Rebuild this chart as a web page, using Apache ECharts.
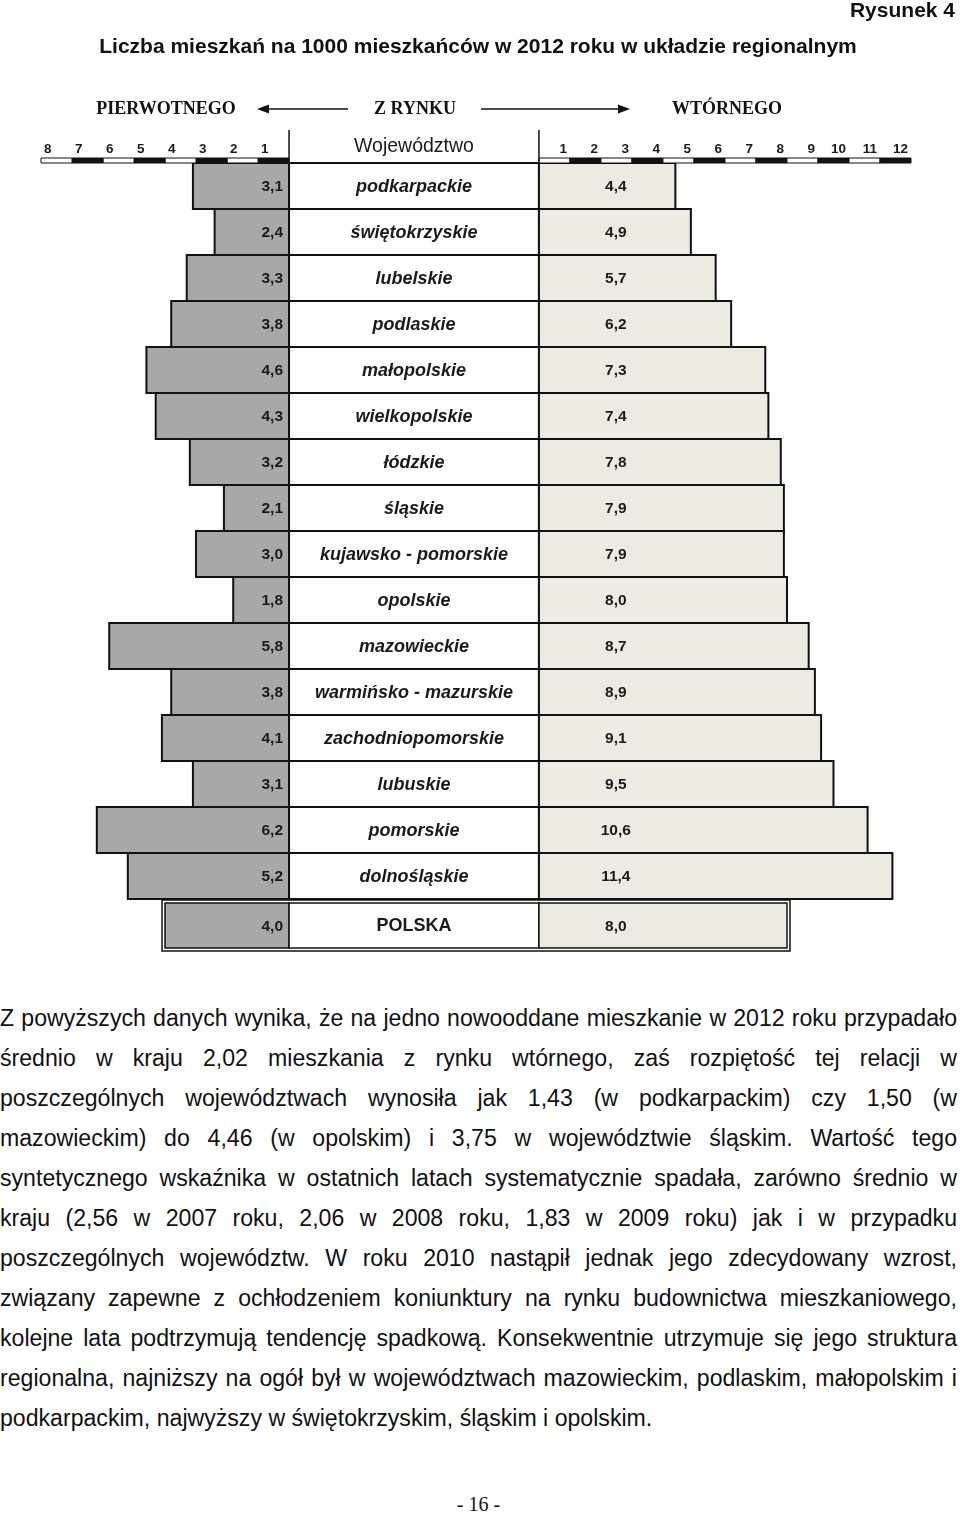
<!DOCTYPE html>
<html>
<head>
<meta charset="utf-8">
<script src="https://cdn.jsdelivr.net/npm/echarts@6/dist/echarts.min.js"></script>
<style>
  html, body { margin: 0; padding: 0; background: #fff; overflow: hidden; }
  #chart { position: absolute; left: 0; top: 0; width: 960px; height: 990px; }
  #text { position: absolute; left: 0; top: 998px; width: 957px;
          font-family: "Liberation Sans", Arial, sans-serif; font-size: 23px; color: #111; }
  .ln { height: 40px; line-height: 40px; white-space: nowrap; transform-origin: 0 50%;
        text-align: justify; text-align-last: justify; }
  .ln.last { text-align: left; text-align-last: left; }
  #page { position: absolute; left: 0; top: 1493px; width: 957px; text-align: center;
          font-family: "Liberation Serif", serif; font-size: 20px; color: #111; }
</style>
</head>
<body>
<div id="chart"></div>
<div id="text"></div>
<div id="page">- 16 -</div>
<script type="text/javascript">
// data: dwellings per 1000 inhabitants, 2012
var regions = ['podkarpackie', 'świętokrzyskie', 'lubelskie', 'podlaskie', 'małopolskie',
    'wielkopolskie', 'łódzkie', 'śląskie', 'kujawsko - pomorskie', 'opolskie', 'mazowieckie',
    'warmińsko - mazurskie', 'zachodniopomorskie', 'lubuskie', 'pomorskie', 'dolnośląskie', 'POLSKA'];
var primary = [3.1, 2.4, 3.3, 3.8, 4.6, 4.3, 3.2, 2.1, 3.0, 1.8, 5.8, 3.8, 4.1, 3.1, 6.2, 5.2, 4.0];
var secondary = [4.4, 4.9, 5.7, 6.2, 7.3, 7.4, 7.8, 7.9, 7.9, 8.0, 8.7, 8.9, 9.1, 9.5, 10.6, 11.4, 8.0];
var leftTicks = [1, 2, 3, 4, 5, 6, 7, 8];
var rightTicks = [1, 2, 3, 4, 5, 6, 7, 8, 9, 10, 11, 12];

var paragraph = [
    'Z powyższych danych wynika, że na jedno nowooddane mieszkanie w 2012 roku przypadało',
    'średnio w kraju 2,02 mieszkania z rynku wtórnego, zaś rozpiętość tej relacji w',
    'poszczególnych województwach wynosiła jak 1,43 (w podkarpackim) czy 1,50 (w',
    'mazowieckim) do 4,46 (w opolskim) i 3,75 w województwie śląskim. Wartość tego',
    'syntetycznego wskaźnika w ostatnich latach systematycznie spadała, zarówno średnio w',
    'kraju (2,56 w 2007 roku, 2,06 w 2008 roku, 1,83 w 2009 roku) jak i w przypadku',
    'poszczególnych województw. W roku 2010 nastąpił jednak jego zdecydowany wzrost,',
    'związany zapewne z ochłodzeniem koniunktury na rynku budownictwa mieszkaniowego,',
    'kolejne lata podtrzymują tendencję spadkową. Konsekwentnie utrzymuje się jego struktura',
    'regionalna, najniższy na ogół był w województwach mazowieckim, podlaskim, małopolskim i',
    'podkarpackim, najwyższy w świętokrzyskim, śląskim i opolskim.'
];

// width of the name column, in axis units (1 unit = 1 dwelling)
var GAP = 8.06;
var SANS = '"Liberation Sans", Arial, sans-serif';
var SERIF = '"Liberation Serif", "Times New Roman", serif';

function fmt(v) { return v.toFixed(1).replace('.', ','); }

var rowData = regions.map(function (name, i) { return [primary[i], secondary[i], i]; });

function renderRow(params, api) {
    var i = api.value(2);
    var l = api.value(0), r = api.value(1);
    var c0 = api.coord([0, i]);
    var h = api.size([0, 1])[1];
    var total = i === regions.length - 1;
    var top = c0[1] - h / 2;
    var hh = h;
    if (total) { top += 4; hh = h - 1; }
    var xL = api.coord([-l, i])[0];
    var x0 = c0[0];
    var xg = api.coord([GAP, i])[0];
    var xR = api.coord([GAP + r, i])[0];
    var lw = total ? 1.5 : 2;
    var cy = top + hh / 2 + 1;
    var kids = [
        { type: 'rect', shape: { x: xL, y: top, width: x0 - xL, height: hh },
          style: { fill: '#a8a8a8', stroke: '#111', lineWidth: lw } },
        { type: 'rect', shape: { x: x0, y: top, width: xg - x0, height: hh },
          style: { fill: '#fff', stroke: '#111', lineWidth: lw } },
        { type: 'rect', shape: { x: xg, y: top, width: xR - xg, height: hh },
          style: { fill: '#ecebe2', stroke: '#111', lineWidth: lw } },
        { type: 'text', style: { text: fmt(l), x: x0 - 6, y: cy, align: 'right',
          verticalAlign: 'middle', font: 'bold 15.5px ' + SANS, fill: '#1a1a1a' } },
        { type: 'text', style: { text: regions[i], x: (x0 + xg) / 2, y: cy, align: 'center',
          verticalAlign: 'middle', font: (total ? 'bold 18px ' : 'italic bold 18px ') + SANS, fill: '#1a1a1a' } },
        { type: 'text', style: { text: fmt(r), x: api.coord([GAP + 2.48, i])[0], y: cy,
          align: 'center', verticalAlign: 'middle', font: 'bold 15.5px ' + SANS, fill: '#1a1a1a' } }
    ];
    if (total) {
        kids.unshift({ type: 'rect', shape: { x: xL - 3, y: top - 3, width: xR - xL + 6, height: hh + 6 },
            style: { fill: '#fff', stroke: '#111', lineWidth: 1.5 } });
    }
    return { type: 'group', children: kids };
}

// scale segments: [from, to, tick, side]
var scaleData = leftTicks.map(function (k) { return [-k, -k + 1, k, 0]; })
    .concat(rightTicks.map(function (k) { return [GAP + k - 1, GAP + k, k, 1]; }));

function renderScale(params, api) {
    var a = api.coord([api.value(0), 0])[0];
    var b = api.coord([api.value(1), 0])[0];
    var k = api.value(2), side = api.value(3);
    var y0 = params.coordSys.y;
    var black = side === 0 ? (k % 2 === 1) : (k % 2 === 0);
    return { type: 'group', children: [
        { type: 'rect', shape: { x: a, y: y0 - 5, width: b - a, height: 5 },
          style: { fill: black ? '#111' : '#fff', stroke: '#111', lineWidth: 1 } },
        { type: 'text', style: { text: String(k), x: side === 0 ? a + 3 : b - 3, y: y0 - 14,
          align: side === 0 ? 'left' : 'right', verticalAlign: 'middle',
          font: 'bold 13.5px ' + SANS, fill: '#1a1a1a' } }
    ] };
}

function renderHead(params, api) {
    var x0 = api.coord([0, 0])[0];
    var xg = api.coord([GAP, 0])[0];
    var y0 = params.coordSys.y;
    return { type: 'group', children: [
        { type: 'line', shape: { x1: x0, y1: y0 - 33, x2: x0, y2: y0 }, style: { stroke: '#111', lineWidth: 1.5 } },
        { type: 'line', shape: { x1: xg, y1: y0 - 33, x2: xg, y2: y0 }, style: { stroke: '#111', lineWidth: 1.5 } },
        { type: 'text', style: { text: 'Województwo', x: (x0 + xg) / 2, y: y0 - 16, align: 'center',
          verticalAlign: 'middle', font: '19.5px ' + SANS, fill: '#1a1a1a' } }
    ] };
}

var chart = echarts.init(document.getElementById('chart'));
chart.setOption({
    animation: false,
    grid: { left: 41, right: 49, top: 163, height: 17 * 46 },
    xAxis: { type: 'value', min: -8, max: GAP + 12, show: false },
    yAxis: { type: 'category', data: regions, inverse: true, show: false },
    series: [
        { type: 'custom', name: 'rows', renderItem: renderRow, data: rowData,
          encode: { x: [0, 1], y: 2 }, clip: false },
        { type: 'custom', name: 'scale', renderItem: renderScale, data: scaleData,
          encode: { x: [0, 1] }, clip: false },
        { type: 'custom', name: 'head', renderItem: renderHead, data: [[0, GAP]],
          encode: { x: [0, 1] }, clip: false }
    ],
    graphic: [
        { type: 'text', right: 5, top: 1, style: { text: 'Rysunek 4', font: 'bold 21px ' + SANS, fill: '#111' } },
        { type: 'text', x: 478, y: 47, style: { text: 'Liczba mieszkań na 1000 mieszkańców w 2012 roku w układzie regionalnym',
          align: 'center', verticalAlign: 'middle', font: 'bold 21px ' + SANS, fill: '#111' } },
        { type: 'text', x: 166, y: 109, style: { text: 'PIERWOTNEGO', align: 'center', verticalAlign: 'middle',
          font: 'bold 18px ' + SERIF, fill: '#111' } },
        { type: 'text', x: 415, y: 109, style: { text: 'Z RYNKU', align: 'center', verticalAlign: 'middle',
          font: 'bold 18px ' + SERIF, fill: '#111' } },
        { type: 'text', x: 727, y: 109, style: { text: 'WTÓRNEGO', align: 'center', verticalAlign: 'middle',
          font: 'bold 18px ' + SERIF, fill: '#111' } },
        { type: 'line', shape: { x1: 266, y1: 109, x2: 348, y2: 109 }, style: { stroke: '#111', lineWidth: 1.5 } },
        { type: 'polygon', shape: { points: [[257, 109], [269, 104.5], [269, 113.5]] }, style: { fill: '#111' } },
        { type: 'line', shape: { x1: 481, y1: 109, x2: 621, y2: 109 }, style: { stroke: '#111', lineWidth: 1.5 } },
        { type: 'polygon', shape: { points: [[630, 109], [618, 104.5], [618, 113.5]] }, style: { fill: '#111' } }
    ]
});

// body text under the figure, line by line as in the source page
var box = document.getElementById('text');
var probe = document.createElement('span');
probe.style.whiteSpace = 'nowrap';
probe.textContent = paragraph[paragraph.length - 1];
box.appendChild(probe);
var sx = 652 / probe.offsetWidth;
box.removeChild(probe);
paragraph.forEach(function (t, i) {
    var d = document.createElement('div');
    d.className = 'ln' + (i === paragraph.length - 1 ? ' last' : '');
    d.style.width = (957 / sx) + 'px';
    d.style.transform = 'scaleX(' + sx + ')';
    d.textContent = t;
    box.appendChild(d);
});
</script>
</body>
</html>
